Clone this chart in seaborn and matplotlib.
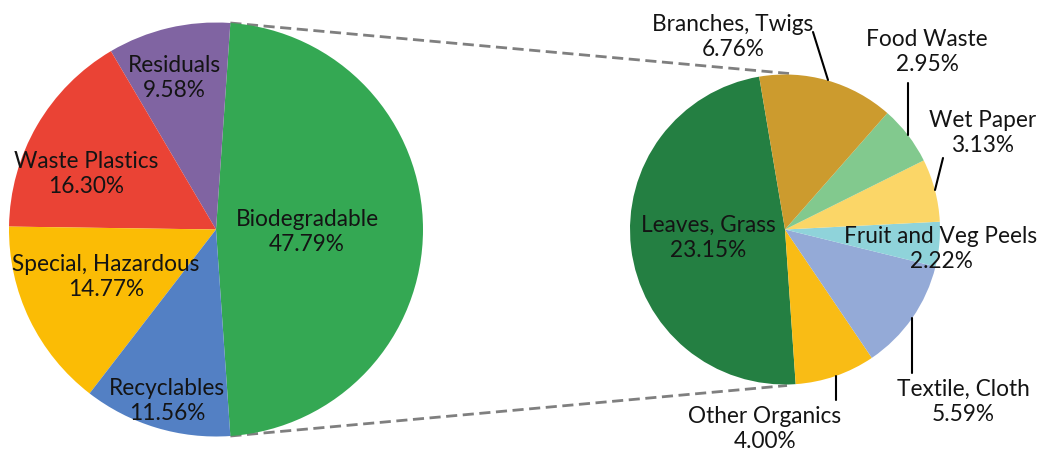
import matplotlib
matplotlib.use("Agg")
import matplotlib.pyplot as plt
import seaborn as sns
import numpy as np

sns.set_theme(style="white")
plt.rcParams['font.family'] = ['Lato', 'DejaVu Sans']

# ---- data ----
main_labels = ["Biodegradable", "Residuals", "Waste Plastics", "Special, Hazardous", "Recyclables"]
main_values = [47.79, 9.58, 16.30, 14.77, 11.56]
main_colors = ["#34A853", "#8064A2", "#EA4335", "#FBBC05", "#5380C4"]

sub_labels = ["Leaves, Grass", "Other Organics", "Textile, Cloth", "Fruit and Veg Peels",
              "Wet Paper", "Food Waste", "Branches, Twigs"]
sub_values = [23.15, 4.00, 5.59, 2.22, 3.13, 2.95, 6.76]
sub_colors = ["#247F42", "#F9BC15", "#94AAD7", "#8FD3DA", "#FBD667", "#82C98E", "#CC9B2E"]

W, H = 1043, 455
fig = plt.figure(figsize=(W / 100, H / 100), dpi=100)
ax = fig.add_axes([0, 0, 1, 1])

def py(y):
    return H - y

# main pie
cx1, cy1, r1 = 216, py(229.5), 207
span1 = main_values[0] / sum(main_values) * 360
ax.pie(main_values, colors=main_colors, startangle=-span1 / 2, counterclock=True,
       center=(cx1, cy1), radius=r1, frame=True,
       wedgeprops=dict(linewidth=0))

# sub pie
cx2, cy2, r2 = 785, py(229.5), 155
ax.pie(sub_values, colors=sub_colors, startangle=99.6, counterclock=True,
       center=(cx2, cy2), radius=r2, frame=True,
       wedgeprops=dict(linewidth=0))

# connector lines
a = np.deg2rad(span1 / 2)
p_top = (cx1 + r1 * np.cos(a), cy1 + r1 * np.sin(a))
p_bot = (cx1 + r1 * np.cos(a), cy1 - r1 * np.sin(a))
ax.plot([p_top[0], cx2 + 4], [p_top[1], cy2 + r2 + 1], ls=(0, (4, 2)), color="#7F7F7F", lw=2, zorder=0.5)
ax.plot([p_bot[0], cx2 + 2], [p_bot[1], cy2 - r2 - 1], ls=(0, (4, 2)), color="#7F7F7F", lw=2, zorder=0.5)

fs = 16.3
tc = "#141414"
def lab(x, y, name, val):
    ax.text(x, py(y), f"{name}\n{val:.2f}%", ha="center", va="center",
            multialignment="center", fontsize=fs, color=tc, linespacing=1.2, zorder=5)

# main labels
main_pos = {"Biodegradable": (307, 232), "Residuals": (174, 78), "Waste Plastics": (86, 174),
            "Special, Hazardous": (106, 277), "Recyclables": (167, 401)}
for n, v in zip(main_labels, main_values):
    lab(*main_pos[n], n, v)

sub_pos = {"Leaves, Grass": (708, 238), "Other Organics": (765, 429), "Textile, Cloth": (963, 402),
           "Fruit and Veg Peels": (941, 249), "Wet Paper": (983, 133), "Food Waste": (927, 52),
           "Branches, Twigs": (733, 37)}
for n, v in zip(sub_labels, sub_values):
    lab(*sub_pos[n], n, v)

# leader lines
leaders = [((813, 32), (828, 80)), ((908, 83), (908, 135)), ((943, 158), (935, 190)),
           ((912, 318), (912, 373)), ((836, 376), (836, 400))]
for (x0, y0), (x1, y1) in leaders:
    ax.plot([x0, x1], [py(y0), py(y1)], color="black", lw=1.5, zorder=4)

ax.set_xlim(0, W)
ax.set_ylim(0, H)
ax.set_aspect("equal")
ax.axis("off")
fig.savefig("out.png", dpi=100, facecolor="white")
